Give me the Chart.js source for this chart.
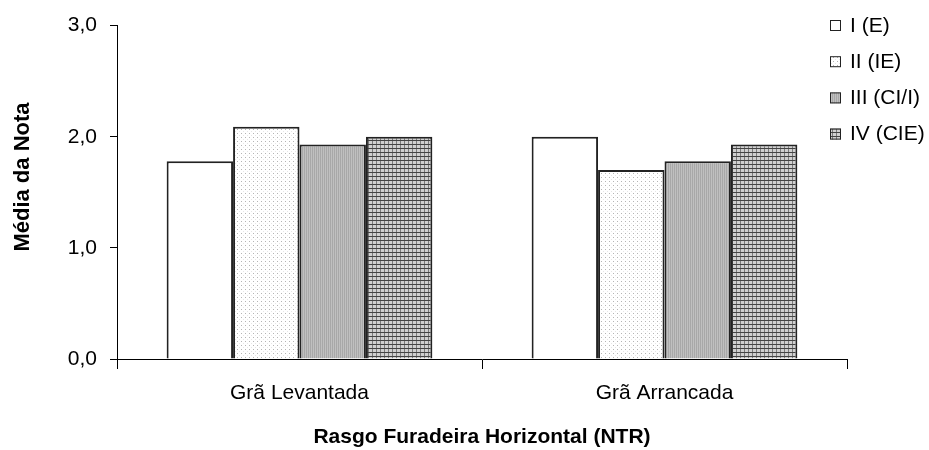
<!DOCTYPE html>
<html>
<head>
<meta charset="utf-8">
<script src="https://cdn.jsdelivr.net/npm/chart.js@4"></script>
<style>
  html, body { margin: 0; padding: 0; background: #fff; }
  #wrap { width: 929px; height: 450px; }
</style>
</head>
<body>
<div id="wrap"><canvas id="chart" width="929" height="450"></canvas></div>
<script>
const categories = ['Grã Levantada', 'Grã Arrancada'];
const seriesNames = ['I (E)', 'II (IE)', 'III (CI/I)', 'IV (CIE)'];
const serieI = [1.78, 2.0];
const serieII = [2.09, 1.70];
const serieIII = [1.93, 1.78];
const serieIV = [2.0, 1.93];
const yTickLabels = ['0,0', '1,0', '2,0', '3,0'];

// small tiles used as fill patterns
function makePattern(size, drawTile) {
    const c = document.createElement('canvas');
    c.width = size;
    c.height = size;
    const g = c.getContext('2d');
    drawTile(g);
    return g.createPattern(c, 'repeat');
}

const ctx = document.querySelector('#chart').getContext('2d');

const fillWhite = '#ffffff';
const fillDots = makePattern(4, g => {
    g.fillStyle = '#ffffff';
    g.fillRect(0, 0, 4, 4);
    g.fillStyle = '#b4b4b4';
    g.fillRect(1, 1, 1, 1);
    g.fillStyle = '#e6e6e6';
    g.fillRect(3, 3, 1, 1);
});
const fillGray = makePattern(2, g => {
    g.fillStyle = '#c0c0c0';
    g.fillRect(0, 0, 2, 2);
    g.fillStyle = '#a8a8a8';
    g.fillRect(0, 0, 1, 2);
});
const fillGrid = makePattern(4, g => {
    g.fillStyle = '#d0d0d0';
    g.fillRect(0, 0, 4, 4);
    g.fillStyle = '#7a7a7a';
    g.fillRect(0, 0, 1, 4);
    g.fillStyle = '#444444';
    g.fillRect(0, 0, 4, 1);
});

const legendBoxes = {
    id: 'legendBoxes',
    afterDraw(chart) {
        const c = chart.ctx;
        c.save();
        c.font = '21px "Liberation Sans", Arial, sans-serif';
        c.textBaseline = 'middle';
        chart.data.datasets.forEach((ds, i) => {
            const y = 25 + i * 36.2;
            c.fillStyle = ds.backgroundColor;
            c.fillRect(830, y - 5, 11, 11);
            c.strokeStyle = '#222';
            c.lineWidth = 1;
            c.strokeRect(830.5, y - 4.5, 10, 10);
            c.fillStyle = '#000';
            c.fillText(ds.label, 850, y + 1);
        });
        c.restore();
    }
};

const data = {
    labels: categories,
    datasets: [
        { label: seriesNames[0], data: serieI, backgroundColor: fillWhite },
        { label: seriesNames[1], data: serieII, backgroundColor: fillDots },
        { label: seriesNames[2], data: serieIII, backgroundColor: fillGray },
        { label: seriesNames[3], data: serieIV, backgroundColor: fillGrid }
    ].map(ds => Object.assign(ds, {
        borderColor: '#222',
        borderWidth: 2,
        borderSkipped: 'bottom',
        barPercentage: 1,
        categoryPercentage: 0.728
    }))
};

const options = {
    responsive: false,
    animation: false,
    events: [],
    layout: {
        padding: { left: 0, right: 82, top: 23, bottom: 0 }
    },
    plugins: {
        legend: { display: false },
        tooltip: { enabled: false }
    },
    scales: {
        x: {
            grid: {
                offset: true,
                drawOnChartArea: false,
                tickLength: 10,
                color: '#000',
                lineWidth: 1
            },
            border: { color: '#000', width: 1 },
            ticks: {
                color: '#000',
                padding: 12,
                font: { family: '"Liberation Sans", Arial, sans-serif', size: 21 }
            },
            title: {
                display: true,
                text: 'Rasgo Furadeira Horizontal (NTR)',
                color: '#000',
                padding: 0,
                font: { family: '"Liberation Sans", Arial, sans-serif', size: 21, weight: 'bold' }
            },
            afterFit(scale) {
                scale.height = 91;
            }
        },
        y: {
            min: 0,
            max: 3,
            grid: {
                drawOnChartArea: false,
                tickLength: 7,
                color: '#000',
                lineWidth: 1
            },
            border: { color: '#000', width: 1 },
            ticks: {
                stepSize: 1,
                color: '#000',
                padding: 13,
                font: { family: '"Liberation Sans", Arial, sans-serif', size: 21 },
                callback: (value, index) => yTickLabels[index]
            },
            title: {
                display: true,
                // leading spaces nudge the rotated title up a little, as in the original
                text: '     Média da Nota',
                color: '#000',
                padding: 10,
                font: { family: '"Liberation Sans", Arial, sans-serif', size: 22, weight: 'bold' }
            },
            afterFit(scale) {
                scale.width = 117;
            }
        }
    }
};

const config = {
    type: 'bar',
    data,
    options,
    plugins: [legendBoxes]
};

const notasChart = new Chart(ctx, config);
</script>
</body>
</html>
